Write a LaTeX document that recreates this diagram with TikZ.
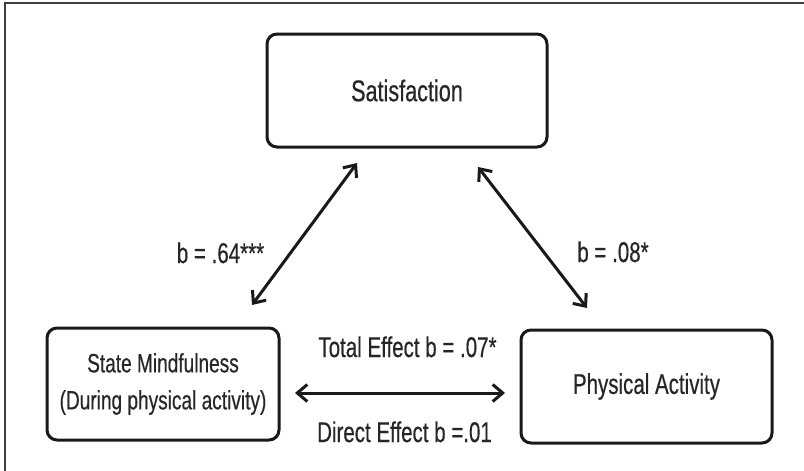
\documentclass[tikz,border=0pt]{standalone}
\usepackage{fontspec}
\setmainfont{Liberation Sans}[FakeStretch=0.72,FakeBold=0.4]
\usetikzlibrary{arrows.meta}
\tikzset{
  box/.style={draw=black!90, line width=3pt, rounded corners=10pt, align=center,
    text=black!85, inner sep=0pt},
  lbl/.style={anchor=base, font=\fontsize{28.5}{30}\selectfont, text=black!85, inner sep=0pt},
  link/.style={line width=3pt, black!90, {Straight Barb[length=10pt,width=17pt,line width=3pt]}-{Straight Barb[length=10pt,width=17pt,line width=3pt]}},
  frame/.style={line width=1.6pt, black!75}
}
\begin{document}
\begin{tikzpicture}[x=1pt,y=-1pt]
\useasboundingbox (0,0) rectangle (804,471);
\fill[white] (0,0) rectangle (804,471);
\draw[frame] (5,471) -- (5,3) -- (804,3);

\node[box, minimum width=280pt, minimum height=113pt, font=\fontsize{30}{36}\selectfont] (sat) at (407,90.5) {Satisfaction};
\node[box, minimum width=232pt, minimum height=112pt, font=\fontsize{26.5}{37}\selectfont] (sm) at (163,384) {State Mindfulness\\(During physical activity)};
\node[box, minimum width=251pt, minimum height=113pt, font=\fontsize{28.5}{36}\selectfont] (pa) at (646.5,386.5) {Physical Activity};

\coordinate (l1) at (252,305);
\coordinate (l2) at (357,163);
\coordinate (r1) at (478,167);
\coordinate (r2) at (587,308);
\coordinate (h1) at (295,393);
\coordinate (h2) at (505,393);

\draw[link] (l1) -- (l2);
\draw[link] (r1) -- (r2);
\draw[link] (h1) -- (h2);

\node[lbl] (b1) at (220.5,263) {b = .64***};
\node[lbl] (b2) at (613,262) {b = .08*};
\node[lbl] (te) at (407.5,357) {Total Effect b = .07*};
\node[lbl] (de) at (404.5,442) {Direct Effect b =.01};
\end{tikzpicture}
\end{document}
